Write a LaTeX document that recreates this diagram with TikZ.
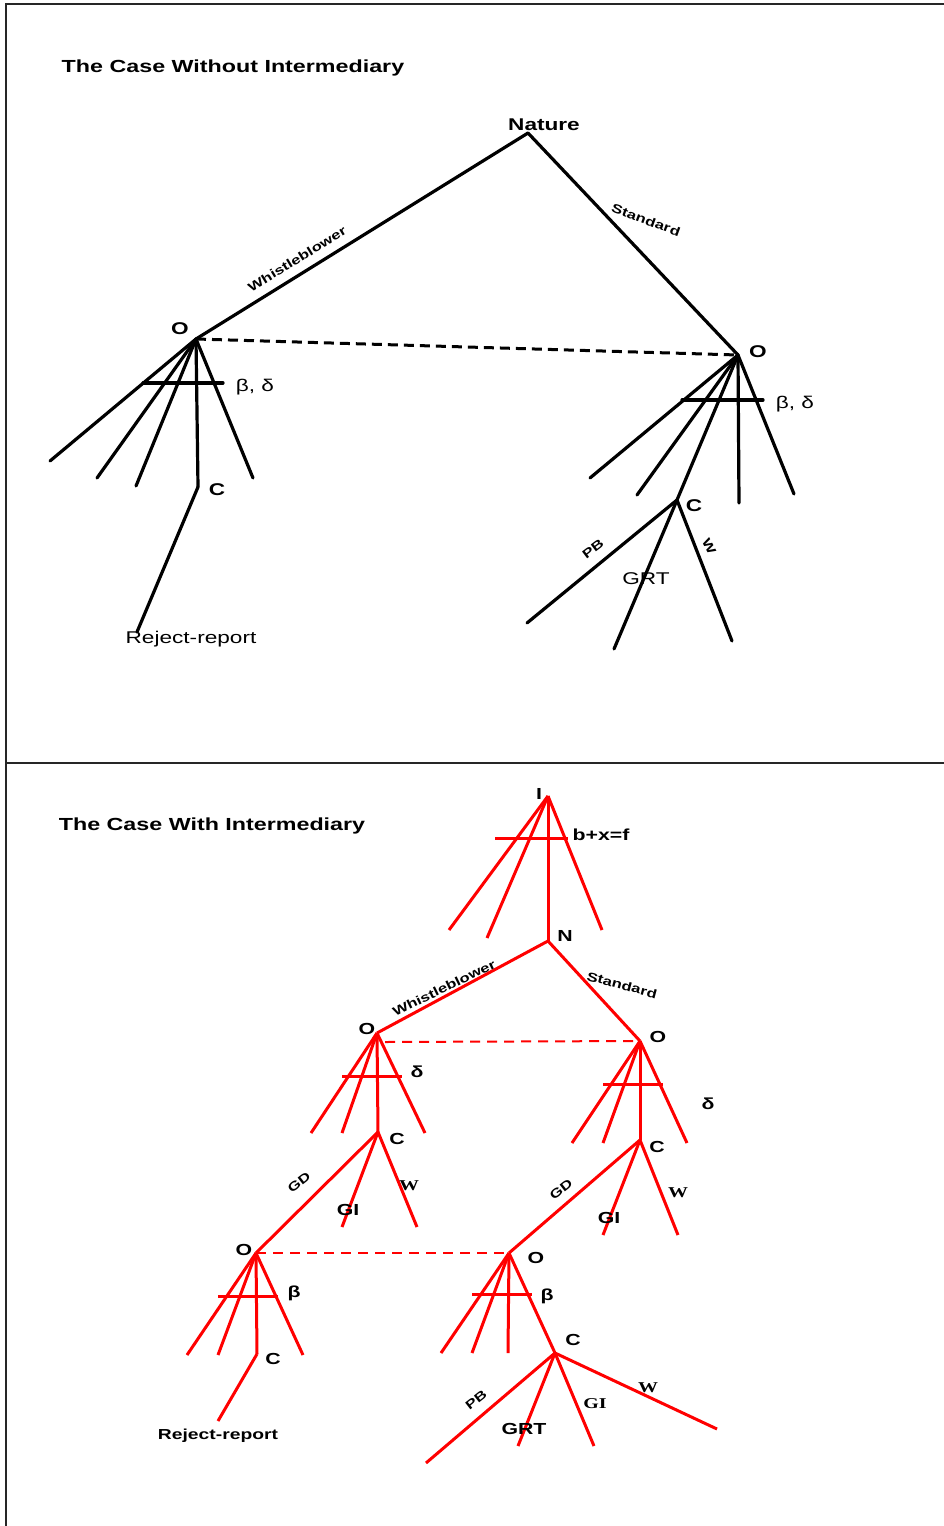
\documentclass[tikz,border=0pt]{standalone}
\usepackage{fontspec}
\setmainfont[FakeStretch=1.33]{Liberation Sans}
\newfontfamily\serifbold[FakeStretch=1.33]{Liberation Serif}
\begin{document}
\begin{tikzpicture}[x=1pt,y=-1pt,
  frame/.style={line width=2pt,black!85},
  bl/.style={line width=3.2pt,line cap=round,black},
  rl/.style={line width=3pt,red},
  bdash/.style={line width=3pt,black,dash pattern=on 10pt off 6pt},
  rdash/.style={line width=2pt,red,dash pattern=on 10pt off 7pt},
  ttl/.style={font=\fontsize{17.5}{18}\selectfont\bfseries,inner sep=0pt},
  bigb/.style={font=\fontsize{17}{17}\selectfont\bfseries,inner sep=0pt},
  bigr/.style={font=\fontsize{17}{17}\selectfont,inner sep=0pt},
  midb/.style={font=\fontsize{16}{16}\selectfont\bfseries,inner sep=0pt},
  smb/.style={font=\fontsize{12.5}{13}\selectfont\bfseries,inner sep=0pt},
  serb/.style={font=\fontsize{15}{15}\selectfont\serifbold\bfseries,inner sep=0pt},
]
\useasboundingbox (0,0) rectangle (944,1526);
% frame
\coordinate (f1) at (6,1526);
\coordinate (f2) at (6,4);
\coordinate (f3) at (944,4);
\coordinate (d1) at (6,763);
\coordinate (d2) at (944,763);
\draw[frame] (f1) -- (f2) -- (f3);
\draw[frame] (d1) -- (d2);

% ================= TOP (black) =================
\node[ttl] (t1) at (233,68) {The Case Without Intermediary};
\coordinate (nat) at (528,133);
\coordinate (oL) at (196,339);
\coordinate (oR) at (738,355);
\node[bigb] (natL) at (544,125) {Nature};
\draw[bl] (nat) -- (oL);
\draw[bl] (nat) -- (oR);
\node[smb,rotate=31.5] (wbl) at (297,259) {Whistleblower};
\node[smb,rotate=-20] (stl) at (646,220) {Standard};
\draw[bdash] (oL) -- (oR);
\node[bigb] (oLl) at (180,329) {O};
\node[bigb] (oRl) at (758,352) {O};
% left fan
\coordinate (a1) at (50,461);
\coordinate (a2) at (97,478);
\coordinate (a3) at (136,486);
\coordinate (cL) at (198,487);
\coordinate (a5) at (253,478);
\coordinate (rr) at (137,632);
\foreach \e in {a1,a2,a3,cL,a5} \draw[bl] (oL) -- (\e);
\draw[bl] (cL) -- (rr);
\coordinate (bar1a) at (143,383);
\coordinate (bar1b) at (223,383);
\draw[bl] (bar1a) -- (bar1b);
\node[bigr] (bdL) at (255,387) {β, δ};
\node[bigb] (cLl) at (217,490) {C};
\node[bigr] (rrl) at (191,639) {Reject-report};
% right fan
\coordinate (b1) at (590,478);
\coordinate (b2) at (637,495);
\coordinate (cR) at (677,500);
\coordinate (b4) at (739,503);
\coordinate (b5) at (794,494);
\foreach \e in {b1,b2,cR,b4,b5} \draw[bl] (oR) -- (\e);
\coordinate (bar2a) at (682,400);
\coordinate (bar2b) at (763,400);
\draw[bl] (bar2a) -- (bar2b);
\node[bigr] (bdR) at (795,404) {β, δ};
\node[bigb] (cRl) at (694,506) {C};
\coordinate (pb) at (527,623);
\coordinate (grt) at (614,649);
\coordinate (ww) at (732,641);
\draw[bl] (cR) -- (pb);
\draw[bl] (cR) -- (grt);
\draw[bl] (cR) -- (ww);
\node[smb,rotate=37] (pbl) at (593,549) {PB};
\node[smb,rotate=-62] (wl) at (709,546) {W};
\node[bigr] (grtl) at (646,579) {GRT};

% ================= BOTTOM (red) =================
\node[ttl] (t2) at (212,826) {The Case With Intermediary};
\coordinate (I) at (548,796);
\coordinate (N) at (548,941);
\coordinate (i1) at (449,930);
\coordinate (i2) at (487,938);
\coordinate (i4) at (602,930);
\foreach \e in {i1,i2,N,i4} \draw[rl] (I) -- (\e);
\coordinate (bar3a) at (495,838);
\coordinate (bar3b) at (568,838);
\draw[rl] (bar3a) -- (bar3b);
\node[midb] (Il) at (539,794) {I};
\node[midb] (bxf) at (601,835) {b+x=f};
\node[midb] (Nl) at (565,936) {N};
\coordinate (o1) at (377,1033);
\coordinate (o2) at (640,1041);
\draw[rl] (N) -- (o1);
\draw[rl] (N) -- (o2);
\node[smb,rotate=26] (wb2) at (444,988) {Whistleblower};
\node[smb,rotate=-15] (st2) at (622,985) {Standard};
\coordinate (dsA) at (385,1042);
\draw[rdash] (dsA) -- (o2);
\node[midb] (o1l) at (367,1029) {O};
\node[midb] (o2l) at (658,1037) {O};
% fan o1
\coordinate (c1) at (378,1132);
\coordinate (e11) at (311,1133);
\coordinate (e12) at (342,1133);
\coordinate (e14) at (425,1133);
\foreach \e in {e11,e12,c1,e14} \draw[rl] (o1) -- (\e);
\coordinate (bar4a) at (342,1076);
\coordinate (bar4b) at (402,1076);
\draw[rl] (bar4a) -- (bar4b);
\node[midb] (d1l) at (417,1072) {δ};
\node[midb] (c1l) at (397,1139) {C};
% fan o2
\coordinate (c2) at (640,1140);
\coordinate (e21) at (572,1143);
\coordinate (e22) at (603,1143);
\coordinate (e24) at (687,1143);
\foreach \e in {e21,e22,c2,e24} \draw[rl] (o2) -- (\e);
\coordinate (bar5a) at (603,1084);
\coordinate (bar5b) at (663,1084);
\draw[rl] (bar5a) -- (bar5b);
\node[midb] (d2l) at (708,1104) {δ};
\node[midb] (c2l) at (657,1147) {C};
% C1 branches
\coordinate (o3) at (256,1253);
\coordinate (gi1) at (342,1227);
\coordinate (w1) at (417,1227);
\draw[rl] (c1) -- (o3);
\draw[rl] (c1) -- (gi1);
\draw[rl] (c1) -- (w1);
\node[smb,rotate=38] (gd1) at (299,1182) {GD};
\node[midb] (gi1l) at (348,1210) {GI};
\node[serb] (w1l) at (409,1186) {W};
% C2 branches
\coordinate (o4) at (509,1253);
\coordinate (gi2) at (603,1235);
\coordinate (w2) at (678,1235);
\draw[rl] (c2) -- (o4);
\draw[rl] (c2) -- (gi2);
\draw[rl] (c2) -- (w2);
\node[smb,rotate=38] (gd2) at (561,1189) {GD};
\node[midb] (gi2l) at (609,1218) {GI};
\node[serb] (w2l) at (678,1193) {W};
% dashed lower
\draw[rdash] (o3) -- (o4);
\node[midb] (o3l) at (244,1250) {O};
\node[midb] (o4l) at (536,1258) {O};
% fan o3
\coordinate (c3) at (257,1354);
\coordinate (e31) at (187,1355);
\coordinate (e32) at (218,1355);
\coordinate (e34) at (303,1355);
\foreach \e in {e31,e32,c3,e34} \draw[rl] (o3) -- (\e);
\coordinate (bar6a) at (218,1296);
\coordinate (bar6b) at (278,1296);
\draw[rl] (bar6a) -- (bar6b);
\node[midb] (b3l) at (294,1293) {β};
\node[midb] (c3l) at (273,1359) {C};
\coordinate (rr2) at (218,1421);
\draw[rl] (c3) -- (rr2);
\node[font=\fontsize{14.5}{15}\selectfont\bfseries,inner sep=0pt] (rr2l) at (218,1436) {Reject-report};
% fan o4
\coordinate (c4) at (555,1353);
\coordinate (e41) at (441,1353);
\coordinate (e42) at (472,1353);
\coordinate (e43) at (508,1353);
\foreach \e in {e41,e42,e43,c4} \draw[rl] (o4) -- (\e);
\coordinate (bar7a) at (472,1294);
\coordinate (bar7b) at (532,1294);
\draw[rl] (bar7a) -- (bar7b);
\node[midb] (b4l) at (547,1296) {β};
\node[midb] (c4l) at (573,1340) {C};
\coordinate (pb2) at (426,1463);
\coordinate (grt2) at (518,1446);
\coordinate (gi3) at (594,1446);
\coordinate (w3) at (717,1429);
\draw[rl] (c4) -- (pb2);
\draw[rl] (c4) -- (grt2);
\draw[rl] (c4) -- (gi3);
\draw[rl] (c4) -- (w3);
\node[smb,rotate=38] (pb2l) at (476,1400) {PB};
\node[midb] (grt2l) at (524,1429) {GRT};
\node[serb] (gi3l) at (595,1404) {GI};
\node[serb] (w3l) at (648,1388) {W};
\end{tikzpicture}
\end{document}
